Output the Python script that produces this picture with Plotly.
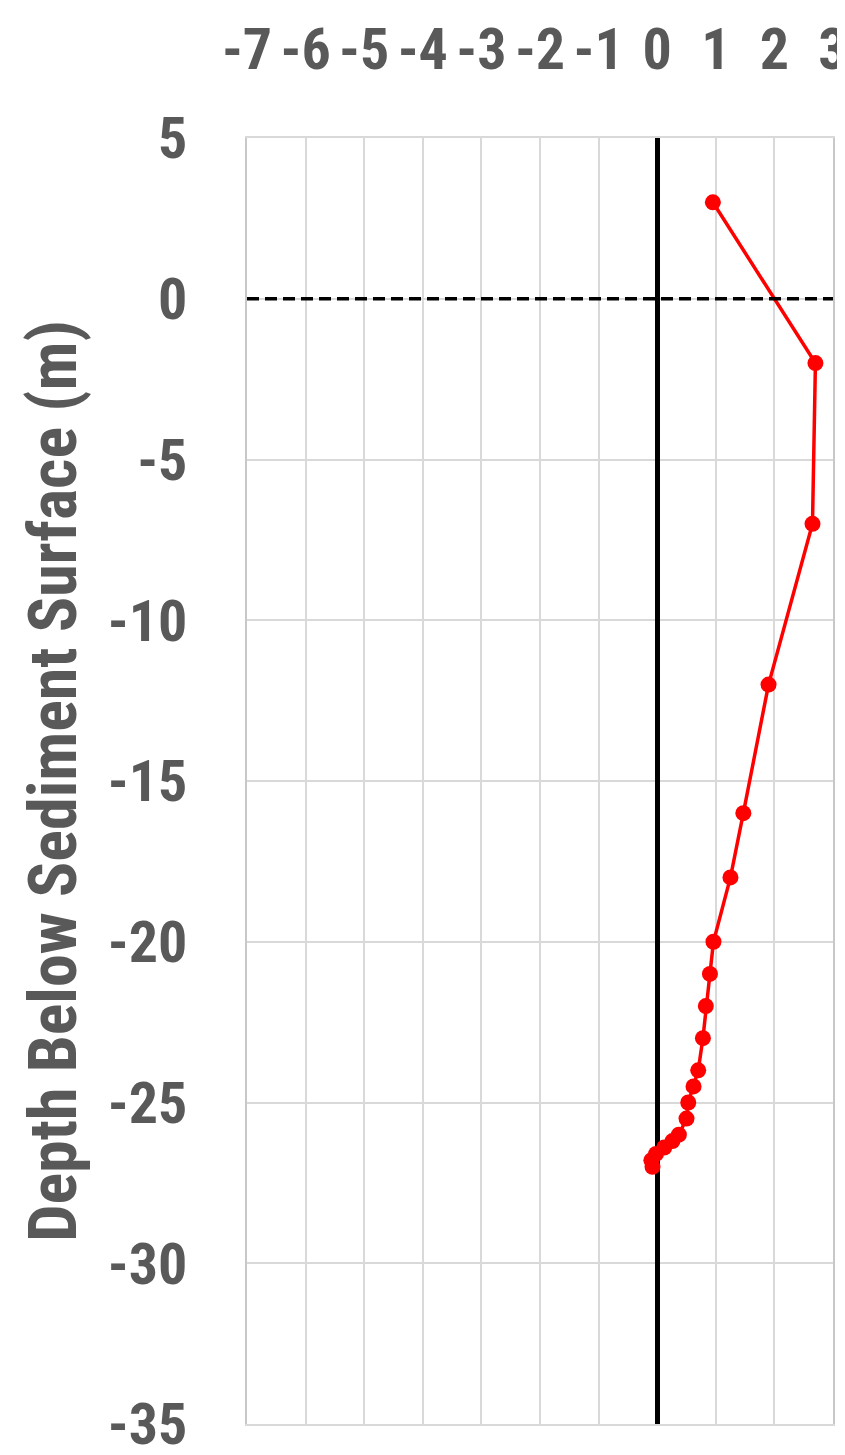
import plotly.graph_objects as go

# Data
value = [0.95, 2.7, 2.65, 1.9, 1.47, 1.25, 0.96, 0.9, 0.83, 0.78, 0.70, 0.62,
         0.53, 0.50, 0.37, 0.26, 0.12, -0.02, -0.10, -0.08]
depth = [3, -2, -7, -12, -16, -18, -20, -21, -22, -23, -24, -24.5,
         -25, -25.5, -26, -26.2, -26.4, -26.6, -26.8, -27]

x_ticks = [-7, -6, -5, -4, -3, -2, -1, 0, 1, 2, 3]
y_ticks = [5, 0, -5, -10, -15, -20, -25, -30, -35]
y_title = "Depth Below Sediment Surface (m)"

FONT = "Liberation Sans Narrow, Roboto Condensed, Roboto, sans-serif"
GRAY = "#595959"

fig = go.Figure()
fig.add_trace(go.Scatter(
    x=value, y=depth, mode="lines+markers",
    line=dict(color="#FF0000", width=3.5),
    marker=dict(color="#FF0000", size=16),
    showlegend=False, cliponaxis=False,
))

fig.add_shape(type="line", xref="paper", yref="y", x0=0, x1=1, y0=0, y1=0,
              line=dict(color="black", width=3.5, dash="12px,6px"))

fig.update_layout(
    width=845, height=1455,
    margin=dict(l=239, r=20, t=130, b=39),
    paper_bgcolor="white", plot_bgcolor="white",
    font=dict(family=FONT, color=GRAY),
)
fig.update_xaxes(
    side="top", range=[-7, 3], tickvals=x_ticks,
    ticktext=[str(v) for v in x_ticks],
    showgrid=True, gridcolor="#d9d9d9", gridwidth=2,
    zeroline=True, zerolinecolor="black", zerolinewidth=5,
    showline=True, mirror=True, linecolor="#d9d9d9", linewidth=2,
    ticks="outside", ticklen=44, tickcolor="rgba(0,0,0,0)",
    tickfont=dict(size=58, family=FONT, color=GRAY, weight="bold"),
    ticklabeloverflow="allow", automargin=False,
)
fig.update_yaxes(
    range=[-35, 5], tickvals=y_ticks,
    ticktext=[str(v) for v in y_ticks],
    showgrid=True, gridcolor="#d9d9d9", gridwidth=2,
    zeroline=False, showline=True, mirror=True, linecolor="#c8c8c8", linewidth=2,
    ticks="outside", ticklen=46, tickcolor="rgba(0,0,0,0)",
    tickfont=dict(size=58, family=FONT, color=GRAY, weight="bold"),
    ticklabeloverflow="allow", automargin=False,
    title=dict(text=y_title, standoff=10,
               font=dict(size=66, family=FONT, color=GRAY, weight="bold")),
)

fig.write_html("out.html")
